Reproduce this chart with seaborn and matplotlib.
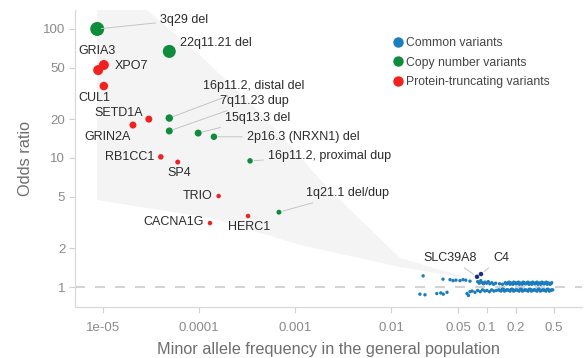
import numpy as np
import pandas as pd
import matplotlib
matplotlib.use("Agg")
import matplotlib.pyplot as plt
from matplotlib.lines import Line2D
import seaborn as sns

# ---------------- data ----------------
cnv_labels = ["3q29 del", "22q11.21 del", "16p11.2, distal del", "7q11.23 dup",
              "15q13.3 del", "2p16.3 (NRXN1) del", "16p11.2, proximal dup", "1q21.1 del/dup"]
cnv_maf = [8.7e-6, 4.9e-5, 4.9e-5, 4.9e-5, 9.8e-5, 1.43e-4, 3.4e-4, 6.8e-4]
cnv_or = [100, 67, 20.4, 16.2, 15.6, 14.6, 9.5, 3.8]

ptv_labels = ["GRIA3", "XPO7", "CUL1", "SETD1A", "GRIN2A", "RB1CC1", "SP4",
              "TRIO", "CACNA1G", "HERC1"]
ptv_maf = [8.9e-6, 1.02e-5, 1.02e-5, 3.0e-5, 2.05e-5, 4.0e-5, 6.0e-5, 1.6e-4, 1.3e-4, 3.24e-4]
ptv_or = [48, 52.6, 36.1, 20, 18, 10.2, 9.3, 5.07, 3.13, 3.55]

highlight_labels = ["SLC39A8", "C4"]
highlight_maf = [0.0787, 0.0866]
highlight_or = [1.20, 1.26]

common_maf = [0.0216, 0.0200, 0.0226, 0.0300, 0.0330, 0.0350, 0.0383, 0.0348, 0.0412, 0.0443,
              0.0475, 0.0523, 0.0562, 0.0600, 0.0619, 0.0640, 0.0665, 0.0700, 0.0750, 0.0665,
              0.080, 0.083, 0.086, 0.089, 0.092, 0.095, 0.099, 0.103, 0.107, 0.112, 0.117, 0.123,
              0.080, 0.085, 0.090, 0.095, 0.100, 0.106, 0.112, 0.118, 0.125,
              0.135, 0.145,
              0.155, 0.162, 0.170, 0.178, 0.186, 0.195, 0.204, 0.213, 0.223, 0.233, 0.244, 0.255,
              0.267, 0.279, 0.292, 0.305, 0.319, 0.333, 0.348, 0.364, 0.380, 0.397, 0.415, 0.434,
              0.453, 0.472,
              0.158, 0.166, 0.174, 0.182, 0.190, 0.199, 0.208, 0.218, 0.228, 0.238, 0.249, 0.261,
              0.273, 0.285, 0.298, 0.312, 0.326, 0.340, 0.356, 0.372, 0.388, 0.406, 0.424, 0.443,
              0.462,
              0.132, 0.140, 0.148, 0.156, 0.165, 0.174, 0.184, 0.194, 0.205, 0.216, 0.228, 0.241,
              0.254, 0.268, 0.283, 0.298, 0.315, 0.332, 0.350, 0.369, 0.390, 0.411, 0.434, 0.458,
              0.483,
              0.136, 0.144, 0.152, 0.160, 0.170, 0.179, 0.189, 0.200, 0.210, 0.222, 0.234, 0.247,
              0.261, 0.275, 0.290, 0.306, 0.323, 0.341, 0.360, 0.380, 0.400, 0.422, 0.446, 0.470]
common_or = [1.22, 0.88, 0.87, 0.89, 0.90, 0.88, 0.91, 1.15, 1.14, 1.12,
             1.13, 1.12, 1.14, 1.13, 0.89, 0.86, 0.92, 0.93, 0.91, 1.11,
             1.10, 1.07, 1.12, 1.08, 1.06, 1.09, 1.07, 1.10, 1.06, 1.08, 1.05, 1.07,
             0.94, 0.92, 0.95, 0.93, 0.94, 0.92, 0.95, 0.93, 0.94,
             1.06, 1.05,
             1.08, 1.06, 1.09, 1.07, 1.05, 1.08, 1.06, 1.09, 1.07, 1.05, 1.08, 1.06,
             1.09, 1.07, 1.05, 1.08, 1.06, 1.09, 1.07, 1.05, 1.08, 1.06, 1.09, 1.07,
             1.05, 1.08,
             1.06, 1.08, 1.05, 1.07, 1.09, 1.06, 1.08, 1.05, 1.07, 1.09, 1.06, 1.08,
             1.05, 1.07, 1.09, 1.06, 1.08, 1.05, 1.07, 1.09, 1.06, 1.08, 1.05, 1.07,
             1.06,
             0.95, 0.93, 0.96, 0.94, 0.95, 0.93, 0.96, 0.94, 0.95, 0.93, 0.96, 0.94,
             0.95, 0.93, 0.96, 0.94, 0.95, 0.93, 0.96, 0.94, 0.95, 0.93, 0.96, 0.94,
             0.95,
             0.94, 0.96, 0.93, 0.95, 0.94, 0.96, 0.93, 0.95, 0.94, 0.96, 0.93, 0.95,
             0.94, 0.96, 0.93, 0.95, 0.94, 0.96, 0.93, 0.95, 0.94, 0.96, 0.93, 0.95]

# shaded detectable region (polygon vertices, data coordinates)
band_maf = [8.66e-6, 2.87e-5, 1.155e-4, 4.53e-4, 2.3e-3, 1.24e-2, 6.65e-2,
            1.24e-2, 1.13e-3, 1.31e-4, 8.66e-6]
band_or = [140, 140, 57.5, 21.6, 5.65, 1.68, 1.16, 1.43, 2.12, 3.43, 4.72]

x_ticks = [1e-5, 1e-4, 1e-3, 1e-2, 0.05, 0.1, 0.2, 0.5]
x_ticklabels = ["1e-05", "0.0001", "0.001", "0.01", "0.05", "0.1", "0.2", "0.5"]
y_ticks = [1, 2, 5, 10, 20, 50, 100]
y_ticklabels = ["1", "2", "5", "10", "20", "50", "100"]

groups = ["Common variants", "Copy number variants", "Protein-truncating variants"]

# ---------------- style ----------------
COLORS = {"Common variants": "#1C7DBE", "Copy number variants": "#0E8C3C",
          "Protein-truncating variants": "#F2201E", "Highlight": "#1F2F86"}
DIAM_PX = {"3q29 del": 14, "22q11.21 del": 13, "16p11.2, distal del": 7.5, "7q11.23 dup": 7,
           "15q13.3 del": 7, "2p16.3 (NRXN1) del": 6.5, "16p11.2, proximal dup": 5.5,
           "1q21.1 del/dup": 5, "GRIA3": 10, "XPO7": 10, "CUL1": 8.5, "SETD1A": 7,
           "GRIN2A": 7, "RB1CC1": 5.5, "SP4": 5, "TRIO": 4.5, "CACNA1G": 4.5, "HERC1": 4.5,
           "SLC39A8": 4.5, "C4": 4.5}
COMMON_DIAM = 3.4

# label placement: (dx px, dy px up, ha, leader line)
LABEL_POS = {
    "3q29 del": (63, 9, "left", True),
    "22q11.21 del": (11, 8, "left", False),
    "GRIA3": (-1, 19, "center", False),
    "XPO7": (11, -1, "left", False),
    "CUL1": (-9, -12, "center", False),
    "SETD1A": (-6, 6, "right", False),
    "GRIN2A": (-2, -12, "right", False),
    "RB1CC1": (-6, 0, "right", False),
    "SP4": (2, -11, "center", False),
    "TRIO": (-6, 0, "right", False),
    "CACNA1G": (-6, 1, "right", False),
    "HERC1": (1, -11, "center", False),
    "16p11.2, distal del": (34, 32, "left", True),
    "7q11.23 dup": (51, 30, "left", True),
    "15q13.3 del": (27, 15, "left", True),
    "2p16.3 (NRXN1) del": (33, 0, "left", True),
    "16p11.2, proximal dup": (18, 5, "left", True),
    "1q21.1 del/dup": (27, 19, "left", True),
    "SLC39A8": (-27, 19, "center", True),
    "C4": (12, 16, "left", True),
}

sns.set_style("white")
plt.rcParams["font.family"] = ["Liberation Sans", "DejaVu Sans"]

rows = []
for g, labs, xs, ys in [("Common variants", [None] * len(common_maf), common_maf, common_or),
                        ("Highlight", highlight_labels, highlight_maf, highlight_or),
                        ("Copy number variants", cnv_labels, cnv_maf, cnv_or),
                        ("Protein-truncating variants", ptv_labels, ptv_maf, ptv_or)]:
    for lab, x, y in zip(labs, xs, ys):
        d = DIAM_PX.get(lab, COMMON_DIAM) if lab else COMMON_DIAM
        rows.append({"maf": x, "or": y, "group": g, "label": lab, "area": (0.72 * d) ** 2})
df = pd.DataFrame(rows)

fig = plt.figure(figsize=(5.84, 3.58), dpi=100)
ax = fig.add_axes([75 / 584, 51 / 358, 507 / 584, 297 / 358])
ax.set_xscale("log")
ax.set_yscale("log")
ax.set_xlim(10 ** -5.292, 10 ** -0.0104)
ax.set_ylim(10 ** -0.155, 10 ** 2.147)

ax.fill(band_maf, band_or, color="#f4f4f4", lw=0, zorder=0)
ax.axhline(1, color="#d4d4d4", lw=1.5, dashes=(4.8, 4.8), zorder=1)

amin, amax = df["area"].min(), df["area"].max()
sns.scatterplot(data=df, x="maf", y="or", hue="group", palette=COLORS,
                size="area", sizes=(amin, amax), size_norm=(amin, amax),
                linewidth=0, legend=False, ax=ax, zorder=3)

for _, r in df[df["label"].notna()].iterrows():
    dx, dy, ha, line = LABEL_POS[r["label"]]
    ax.annotate(r["label"], xy=(r["maf"], r["or"]), xytext=(dx, dy),
                textcoords="offset pixels", ha=ha, va="center", fontsize=9, color="#2b2b2b",
                arrowprops=dict(arrowstyle="-", color="#c4c4c4", lw=0.7, shrinkA=1, shrinkB=3)
                if line else None, zorder=4)

ax.set_xticks(x_ticks)
ax.set_xticklabels(x_ticklabels)
ax.set_yticks(y_ticks)
ax.set_yticklabels(y_ticklabels)
ax.minorticks_off()
ax.tick_params(axis="both", length=4, width=0.8, color="#d0d0d0", labelcolor="#8a8a8a",
               labelsize=9.5, direction="out", bottom=True, left=True)
ax.tick_params(axis="x", pad=6.5)
ax.tick_params(axis="y", pad=3)
for s in ["top", "right"]:
    ax.spines[s].set_visible(False)
for s in ["left", "bottom"]:
    ax.spines[s].set_color("#d9d9d9")
    ax.spines[s].set_linewidth(0.9)

ax.set_xlabel("Minor allele frequency in the general population", fontsize=11.7,
              color="#6e6e6e", labelpad=6)
ax.set_ylabel("Odds ratio", fontsize=11.7, color="#6e6e6e", labelpad=7)

handles = [Line2D([0], [0], marker="o", ls="", markersize=7.5, markeredgewidth=0,
                  markerfacecolor=COLORS[g]) for g in groups]
leg = ax.legend(handles, groups, loc="upper left", bbox_to_anchor=(385 / 584, 1 - 31 / 358),
                bbox_transform=fig.transFigure, frameon=False, fontsize=8.8, handletextpad=0.05,
                labelspacing=0.62, borderpad=0, handlelength=1.2)
for t in leg.get_texts():
    t.set_color("#444444")

fig.savefig("out.png", dpi=100)
